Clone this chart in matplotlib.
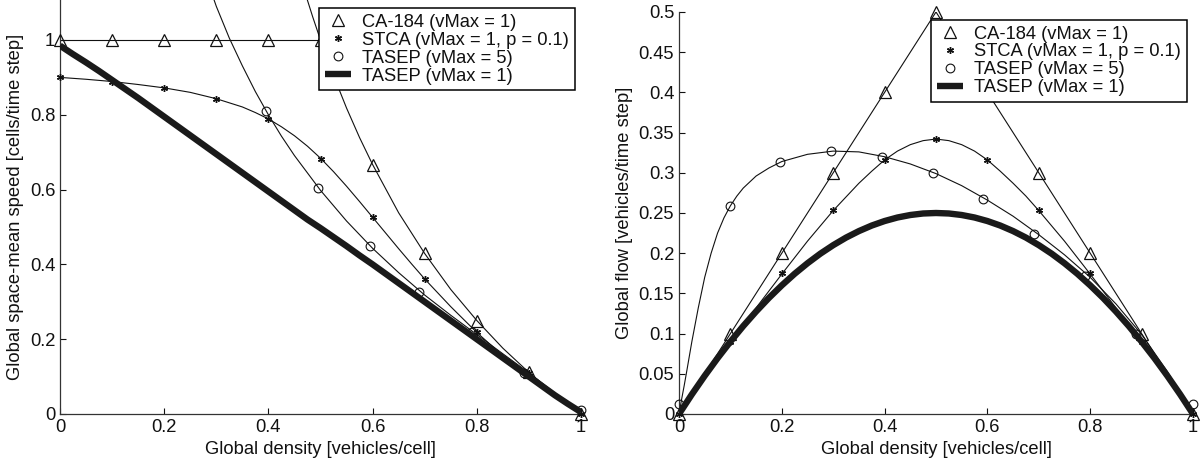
#!/usr/bin/env python3
"""
Fundamental diagrams: global speed and global flow vs. global density
for CA-184, STCA and TASEP models.
"""

import matplotlib
matplotlib.use('Agg')
import matplotlib.pyplot as plt
from matplotlib.ticker import FormatStrFormatter, MultipleLocator

# ── Data ─────────────────────────────────────────────────────────────────────
# simulation points (markers)
density_pts = [0.0, 0.1, 0.2, 0.3, 0.4, 0.5, 0.6, 0.7, 0.8, 0.9, 1.0]
ca184_speed_pts = [1.0, 1.0, 1.0, 1.0, 1.0, 1.0, 0.667, 0.43, 0.25, 0.111, 0.0]
ca184_flow_pts = [0.0, 0.1, 0.2, 0.3, 0.4, 0.5, 0.4, 0.3, 0.2, 0.1, 0.0]
stca_speed_pts = [0.9, 0.889, 0.872, 0.843, 0.79, 0.683, 0.527, 0.36, 0.22, 0.11, 0.0]
stca_flow_pts = [0.0, 0.089, 0.175, 0.254, 0.316, 0.342, 0.316, 0.254, 0.175, 0.089, 0.0]

tasep5_speed_density_pts = [0.395, 0.495, 0.595, 0.69, 0.79, 0.89, 1.0]
tasep5_speed_pts = [0.81, 0.605, 0.45, 0.325, 0.218, 0.11, 0.01]
tasep5_flow_density_pts = [0.0, 0.099, 0.196, 0.296, 0.395, 0.494, 0.592, 0.69, 0.79, 0.889, 1.0]
tasep5_flow_pts = [0.012, 0.259, 0.314, 0.327, 0.32, 0.3, 0.267, 0.224, 0.172, 0.1, 0.012]

# theory curves (thin lines)
stca_density = [0.0, 0.05, 0.1, 0.15, 0.2, 0.25, 0.3, 0.35, 0.375, 0.4, 0.425, 0.45, 0.475,
                0.5, 0.525, 0.55, 0.575, 0.6, 0.625, 0.65, 0.675, 0.7, 0.75, 0.8, 0.85,
                0.9, 0.95, 1.0]
stca_speed_curve = [0.9, 0.895, 0.889, 0.881, 0.872, 0.86, 0.843, 0.821, 0.806, 0.789, 0.768,
                    0.744, 0.716, 0.684, 0.648, 0.609, 0.568, 0.526, 0.484, 0.442, 0.401,
                    0.361, 0.287, 0.218, 0.156, 0.099, 0.047, 0.0]
stca_flow_curve = [0.0, 0.045, 0.089, 0.132, 0.174, 0.215, 0.253, 0.287, 0.302, 0.316, 0.327,
                   0.335, 0.34, 0.342, 0.34, 0.335, 0.327, 0.316, 0.302, 0.287, 0.271,
                   0.253, 0.215, 0.174, 0.132, 0.089, 0.045, 0.0]

ca184_free_density = [0.0, 0.5]
ca184_free_speed = [1.0, 1.0]
ca184_jam_density = [0.47, 0.485, 0.5, 0.525, 0.55, 0.575, 0.6, 0.65, 0.7, 0.75, 0.8, 0.85,
                     0.9, 0.95, 1.0]
ca184_jam_speed = [1.128, 1.062, 1.0, 0.905, 0.818, 0.739, 0.667, 0.538, 0.429, 0.333, 0.25,
                   0.176, 0.111, 0.053, 0.0]
ca184_flow_density = [0.0, 0.5, 1.0]
ca184_flow_curve = [0.0, 0.5, 0.0]

tasep5_speed_density = [0.29, 0.3, 0.325, 0.35, 0.375, 0.4, 0.425, 0.45, 0.5, 0.55, 0.6, 0.65,
                        0.7, 0.75, 0.8, 0.85, 0.9, 0.95, 1.0]
tasep5_speed_curve = [1.13, 1.09, 1.005, 0.931, 0.862, 0.8, 0.743, 0.691, 0.598, 0.516, 0.443,
                      0.378, 0.318, 0.264, 0.2125, 0.161, 0.11, 0.056, 0.0]
tasep5_flow_density = [0.0, 0.005, 0.01, 0.015, 0.025, 0.0375, 0.05, 0.0625, 0.075, 0.0875,
                       0.1, 0.1125, 0.125, 0.15, 0.175, 0.2, 0.25, 0.3, 0.35, 0.4, 0.45, 0.5,
                       0.55, 0.6, 0.65, 0.7, 0.75, 0.8, 0.85, 0.9, 0.95, 1.0]
tasep5_flow_curve = [0.0, 0.018, 0.035, 0.053, 0.09, 0.132, 0.17, 0.2, 0.225, 0.244, 0.259,
                     0.271, 0.281, 0.296, 0.306, 0.314, 0.323, 0.327, 0.326, 0.32, 0.311,
                     0.299, 0.284, 0.266, 0.246, 0.223, 0.198, 0.17, 0.137, 0.099, 0.053, 0.0]

# TASEP vMax = 1 (thick line)
tasep1_density = [0.0, 0.025, 0.05, 0.075, 0.1, 0.125, 0.15, 0.175, 0.2, 0.225, 0.25, 0.275,
                  0.3, 0.325, 0.35, 0.375, 0.4, 0.425, 0.45, 0.475, 0.5, 0.525, 0.55, 0.575,
                  0.6, 0.625, 0.65, 0.675, 0.7, 0.725, 0.75, 0.775, 0.8, 0.825, 0.85, 0.875,
                  0.9, 0.925, 0.95, 0.975, 1.0]
tasep1_speed_curve = [0.985, 0.962, 0.94, 0.917, 0.893, 0.869, 0.845, 0.82, 0.795, 0.77, 0.745,
                      0.72, 0.695, 0.67, 0.645, 0.62, 0.595, 0.57, 0.545, 0.52, 0.497, 0.473,
                      0.449, 0.424, 0.4, 0.375, 0.35, 0.325, 0.3, 0.275, 0.25, 0.225, 0.2,
                      0.175, 0.15, 0.125, 0.1, 0.075, 0.05, 0.027, 0.005]
tasep1_flow_curve = [0.0, 0.0244, 0.0475, 0.0694, 0.09, 0.1094, 0.1275, 0.1444, 0.16, 0.1744,
                     0.1875, 0.1994, 0.21, 0.2194, 0.2275, 0.2344, 0.24, 0.2444, 0.2475, 0.2494,
                     0.25, 0.2494, 0.2475, 0.2444, 0.24, 0.2344, 0.2275, 0.2194, 0.21, 0.1994,
                     0.1875, 0.1744, 0.16, 0.1444, 0.1275, 0.1094, 0.09, 0.0694, 0.0475,
                     0.0244, 0.0]

legend_labels = ['CA-184 (vMax = 1)', 'STCA (vMax = 1, p = 0.1)',
                 'TASEP (vMax = 5)', 'TASEP (vMax = 1)']

FONT = 13.2
INK = '#111111'
THIN = 0.8
THICK = 4.6

plt.rcParams['font.family'] = ['Liberation Sans', 'DejaVu Sans']
plt.rcParams['text.color'] = INK
plt.rcParams['axes.labelcolor'] = INK
plt.rcParams['xtick.color'] = INK
plt.rcParams['ytick.color'] = INK


def style_axes(ax, ymax, ystep, xlabel, ylabel):
    """MATLAB-like axes: left/bottom spines, inward ticks, %g labels."""
    ax.set_xlim(0, 1)
    ax.set_ylim(0, ymax)
    ax.xaxis.set_major_locator(MultipleLocator(0.2))
    ax.yaxis.set_major_locator(MultipleLocator(ystep))
    ax.xaxis.set_major_formatter(FormatStrFormatter('%g'))
    ax.yaxis.set_major_formatter(FormatStrFormatter('%g'))
    ax.tick_params(direction='in', length=4, width=0.8, labelsize=FONT, pad=3.5)
    for side in ('top', 'right'):
        ax.spines[side].set_visible(False)
    for side in ('left', 'bottom'):
        ax.spines[side].set_color('#333333')
        ax.spines[side].set_linewidth(0.9)
    ax.set_xlabel(xlabel, fontsize=FONT, labelpad=4)
    ax.set_ylabel(ylabel, fontsize=FONT, labelpad=4)


def add_markers(ax, ca_x, ca_y, st_x, st_y, ta_x, ta_y):
    h1, = ax.plot(ca_x, ca_y, linestyle='none', marker='^', markersize=8.5,
                  markerfacecolor='none', markeredgecolor=INK, markeredgewidth=0.9,
                  clip_on=False, zorder=3)
    h2, = ax.plot(st_x, st_y, linestyle='none', marker=(6, 2, 0), markersize=5,
                  markeredgecolor=INK, markeredgewidth=1.0, clip_on=False, zorder=3)
    h3, = ax.plot(ta_x, ta_y, linestyle='none', marker='o', markersize=6.3,
                  markerfacecolor='none', markeredgecolor=INK, markeredgewidth=0.8,
                  clip_on=False, zorder=3)
    return [h1, h2, h3]


def add_legend(ax, handles):
    leg = ax.legend(handles, legend_labels, loc='upper right',
                    bbox_to_anchor=(0.988, 0.98), fontsize=FONT,
                    frameon=True, fancybox=False, framealpha=1.0,
                    edgecolor='black', borderpad=0.3, handlelength=1.45,
                    handletextpad=0.6, labelspacing=0.05, borderaxespad=0.0)
    leg.get_frame().set_linewidth(1.1)
    leg.set_zorder(10)
    return leg


def main():
    fig = plt.figure(figsize=(12.02, 4.72), dpi=100)

    # ── Left panel: speed ────────────────────────────────────────────────────
    ax = fig.add_axes([60 / 1202, 58 / 472, 521 / 1202, 414 / 472])
    ax.plot(ca184_free_density, ca184_free_speed, color=INK, lw=THIN)
    ax.plot(ca184_jam_density, ca184_jam_speed, color=INK, lw=THIN)
    ax.plot(stca_density, stca_speed_curve, color=INK, lw=THIN)
    ax.plot(tasep5_speed_density, tasep5_speed_curve, color=INK, lw=THIN)
    handles = add_markers(ax, density_pts, ca184_speed_pts,
                          density_pts, stca_speed_pts,
                          tasep5_speed_density_pts, tasep5_speed_pts)
    h4, = ax.plot(tasep1_density, tasep1_speed_curve, color='#1a1a1a', lw=THICK,
                  solid_capstyle='butt', solid_joinstyle='round', zorder=4)
    style_axes(ax, 414 / 374, 0.2, 'Global density [vehicles/cell]',
               'Global space-mean speed [cells/time step]')
    add_legend(ax, handles + [h4])

    # ── Right panel: flow ────────────────────────────────────────────────────
    ax = fig.add_axes([679 / 1202, 58 / 472, 514 / 1202, 402 / 472])
    ax.plot(ca184_flow_density, ca184_flow_curve, color=INK, lw=THIN)
    ax.plot(stca_density, stca_flow_curve, color=INK, lw=THIN)
    ax.plot(tasep5_flow_density, tasep5_flow_curve, color=INK, lw=THIN)
    handles = add_markers(ax, density_pts, ca184_flow_pts,
                          density_pts, stca_flow_pts,
                          tasep5_flow_density_pts, tasep5_flow_pts)
    h4, = ax.plot(tasep1_density, tasep1_flow_curve, color='#1a1a1a', lw=THICK,
                  solid_capstyle='butt', solid_joinstyle='round', zorder=4)
    style_axes(ax, 0.5, 0.05, 'Global density [vehicles/cell]',
               'Global flow [vehicles/time step]')
    add_legend(ax, handles + [h4])

    fig.savefig('out.png', dpi=100)
    plt.close(fig)


if __name__ == '__main__':
    main()
